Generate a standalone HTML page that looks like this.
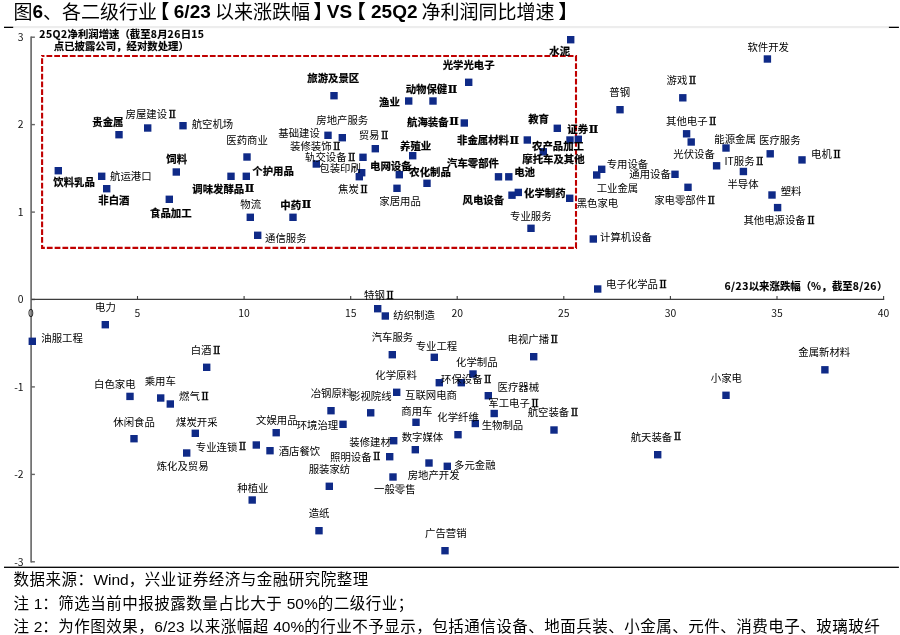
<!DOCTYPE html>
<html lang="zh-CN"><head><meta charset="utf-8"><title>图6</title>
<style>
html,body{margin:0;padding:0;background:#fff;}
body{width:900px;height:635px;overflow:hidden;position:relative;font-family:"Liberation Sans","Noto Sans CJK SC",sans-serif;color:#000;}
#ttl span,#ttl b{position:absolute;top:0;line-height:25px;font-size:19px;white-space:nowrap;}
#ttl b{font-weight:700;}
.fn{position:absolute;left:13.4px;font-size:15.5px;letter-spacing:0.5px;white-space:nowrap;line-height:20px;color:#000;}
.fn i{font-style:normal;letter-spacing:0;}
svg{position:absolute;left:0;top:0;}
svg text{font-family:"Noto Sans CJK SC","Liberation Sans",sans-serif;}
.l{font-size:10.4px;fill:#000;font-weight:400;}
.l tspan{font-family:"DejaVu Serif",serif;font-weight:400;font-size:11px;stroke:#000;stroke-width:0.3px;}
.b tspan{font-family:"DejaVu Serif",serif;font-weight:700;font-size:11.3px;}
.b{font-size:10.4px;fill:#000;font-weight:700;stroke:#000;stroke-width:0.22px;}
.t{font-size:10.4px;fill:#111;}
.at{font-size:10.4px;fill:#000;font-weight:700;stroke:#000;stroke-width:0.15px;}
.at .d{letter-spacing:0.45px;}
.p{fill:#0f2a87;}
</style></head><body>
<div id="ttl"><span style="left:13.4px">图</span><b style="left:32.6px;top:-1px">6</b><span style="left:43.1px">、各二级行业</span><b style="left:150.2px">【</b><b style="left:173.8px;top:-1px">6/23</b><span style="left:215.0px">以来涨跌幅</span><b style="left:313.6px">】</b><b style="left:326.8px;top:-1px">VS</b><b style="left:346.8px">【</b><b style="left:371.0px;top:-1px">25Q2</b><span style="left:421.4px">净利润同比增速</span><b style="left:558.6px">】</b></div>
<svg width="900" height="635" viewBox="0 0 900 635">
<rect x="13.2" y="26" width="876" height="2.2" fill="#ededed"/>
<rect x="4" y="26.7" width="9.2" height="1.3" fill="#000"/>
<rect x="888.9" y="26.7" width="10" height="1.3" fill="#000"/>
<rect x="4" y="566.65" width="894.9" height="1.3" fill="#000"/>
<g stroke="#646464" stroke-width="1.6" fill="none">
<line x1="31.1" y1="36.5" x2="31.1" y2="562.5"/>
<line x1="31" y1="561.8" x2="34.9" y2="561.8" stroke-width="1.4"/>
<line x1="31" y1="474.4" x2="34.9" y2="474.4" stroke-width="1.4"/>
<line x1="31" y1="386.9" x2="34.9" y2="386.9" stroke-width="1.4"/>
<line x1="31" y1="299.5" x2="34.9" y2="299.5" stroke-width="1.4"/>
<line x1="31" y1="212.1" x2="34.9" y2="212.1" stroke-width="1.4"/>
<line x1="31" y1="124.6" x2="34.9" y2="124.6" stroke-width="1.4"/>
<line x1="31" y1="37.2" x2="34.9" y2="37.2" stroke-width="1.4"/>
</g>
<g stroke="#3c3c3c" stroke-width="1.25" fill="none">
<line x1="31.5" y1="299.4" x2="884.2" y2="299.4"/>
<line x1="137.5" y1="299.5" x2="137.5" y2="296" stroke-width="1.1"/>
<line x1="244.1" y1="299.5" x2="244.1" y2="296" stroke-width="1.1"/>
<line x1="350.7" y1="299.5" x2="350.7" y2="296" stroke-width="1.1"/>
<line x1="457.2" y1="299.5" x2="457.2" y2="296" stroke-width="1.1"/>
<line x1="563.8" y1="299.5" x2="563.8" y2="296" stroke-width="1.1"/>
<line x1="670.4" y1="299.5" x2="670.4" y2="296" stroke-width="1.1"/>
<line x1="777.0" y1="299.5" x2="777.0" y2="296" stroke-width="1.1"/>
<line x1="883.6" y1="299.5" x2="883.6" y2="296" stroke-width="1.1"/>
</g>
<text class="t" x="23.6" y="561.1" text-anchor="end" dominant-baseline="central">-3</text>
<text class="t" x="23.6" y="473.7" text-anchor="end" dominant-baseline="central">-2</text>
<text class="t" x="23.6" y="386.2" text-anchor="end" dominant-baseline="central">-1</text>
<text class="t" x="23.6" y="298.8" text-anchor="end" dominant-baseline="central">0</text>
<text class="t" x="23.6" y="211.4" text-anchor="end" dominant-baseline="central">1</text>
<text class="t" x="23.6" y="123.9" text-anchor="end" dominant-baseline="central">2</text>
<text class="t" x="23.6" y="36.5" text-anchor="end" dominant-baseline="central">3</text>
<text class="t" x="30.9" y="312.3" text-anchor="middle" dominant-baseline="central">0</text>
<text class="t" x="137.5" y="312.3" text-anchor="middle" dominant-baseline="central">5</text>
<text class="t" x="244.1" y="312.3" text-anchor="middle" dominant-baseline="central">10</text>
<text class="t" x="350.7" y="312.3" text-anchor="middle" dominant-baseline="central">15</text>
<text class="t" x="457.2" y="312.3" text-anchor="middle" dominant-baseline="central">20</text>
<text class="t" x="563.8" y="312.3" text-anchor="middle" dominant-baseline="central">25</text>
<text class="t" x="670.4" y="312.3" text-anchor="middle" dominant-baseline="central">30</text>
<text class="t" x="777.0" y="312.3" text-anchor="middle" dominant-baseline="central">35</text>
<text class="t" x="883.6" y="312.3" text-anchor="middle" dominant-baseline="central">40</text>
<rect x="42.1" y="56" width="533.9" height="191.9" fill="none" stroke="#c00000" stroke-width="2.1" stroke-dasharray="5.75 2.03" stroke-dashoffset="3.4"/>
<text class="at" x="39.3" y="33.0" dominant-baseline="central"><tspan class="d">25Q2</tspan>净利润增速（截至<tspan class="d">8</tspan>月<tspan class="d">26</tspan>日<tspan class="d">15</tspan></text>
<text class="at" x="53.8" y="45.4" dominant-baseline="central">点已披露公司，经对数处理）</text>
<text class="at" x="724.5" y="285.2" dominant-baseline="central"><tspan class="d">6/23</tspan>以来涨跌幅（<tspan class="d">%</tspan>，截至<tspan class="d">8/26</tspan>）</text>
<rect class="p" x="115.3" y="131.0" width="7.4" height="7.4"/>
<rect class="p" x="144.0" y="124.3" width="7.4" height="7.4"/>
<rect class="p" x="179.3" y="122.0" width="7.4" height="7.4"/>
<rect class="p" x="243.3" y="153.3" width="7.4" height="7.4"/>
<rect class="p" x="54.6" y="167.0" width="7.4" height="7.4"/>
<rect class="p" x="98.0" y="172.6" width="7.4" height="7.4"/>
<rect class="p" x="103.0" y="185.0" width="7.4" height="7.4"/>
<rect class="p" x="172.6" y="168.3" width="7.4" height="7.4"/>
<rect class="p" x="165.6" y="195.6" width="7.4" height="7.4"/>
<rect class="p" x="227.3" y="172.6" width="7.4" height="7.4"/>
<rect class="p" x="242.6" y="172.6" width="7.4" height="7.4"/>
<rect class="p" x="246.6" y="213.6" width="7.4" height="7.4"/>
<rect class="p" x="289.3" y="213.6" width="7.4" height="7.4"/>
<rect class="p" x="254.0" y="231.6" width="7.4" height="7.4"/>
<rect class="p" x="330.3" y="92.0" width="7.4" height="7.4"/>
<rect class="p" x="405.0" y="97.3" width="7.4" height="7.4"/>
<rect class="p" x="429.3" y="97.3" width="7.4" height="7.4"/>
<rect class="p" x="465.0" y="78.6" width="7.4" height="7.4"/>
<rect class="p" x="460.6" y="119.3" width="7.4" height="7.4"/>
<rect class="p" x="324.3" y="131.6" width="7.4" height="7.4"/>
<rect class="p" x="338.6" y="134.0" width="7.4" height="7.4"/>
<rect class="p" x="371.6" y="145.0" width="7.4" height="7.4"/>
<rect class="p" x="359.3" y="153.6" width="7.4" height="7.4"/>
<rect class="p" x="312.6" y="160.3" width="7.4" height="7.4"/>
<rect class="p" x="358.0" y="169.0" width="7.4" height="7.4"/>
<rect class="p" x="355.6" y="173.0" width="7.4" height="7.4"/>
<rect class="p" x="409.0" y="152.0" width="7.4" height="7.4"/>
<rect class="p" x="395.6" y="171.0" width="7.4" height="7.4"/>
<rect class="p" x="423.3" y="179.6" width="7.4" height="7.4"/>
<rect class="p" x="393.3" y="184.6" width="7.4" height="7.4"/>
<rect class="p" x="523.6" y="136.3" width="7.4" height="7.4"/>
<rect class="p" x="494.8" y="173.1" width="7.4" height="7.4"/>
<rect class="p" x="505.1" y="173.1" width="7.4" height="7.4"/>
<rect class="p" x="539.6" y="148.1" width="7.4" height="7.4"/>
<rect class="p" x="514.6" y="188.7" width="7.4" height="7.4"/>
<rect class="p" x="508.3" y="191.5" width="7.4" height="7.4"/>
<rect class="p" x="527.3" y="224.6" width="7.4" height="7.4"/>
<rect class="p" x="567.0" y="36.0" width="7.4" height="7.4"/>
<rect class="p" x="616.3" y="106.0" width="7.4" height="7.4"/>
<rect class="p" x="679.1" y="94.1" width="7.4" height="7.4"/>
<rect class="p" x="763.7" y="55.3" width="7.4" height="7.4"/>
<rect class="p" x="682.9" y="130.1" width="7.4" height="7.4"/>
<rect class="p" x="687.5" y="138.3" width="7.4" height="7.4"/>
<rect class="p" x="722.3" y="144.3" width="7.4" height="7.4"/>
<rect class="p" x="766.5" y="150.1" width="7.4" height="7.4"/>
<rect class="p" x="712.9" y="162.1" width="7.4" height="7.4"/>
<rect class="p" x="739.7" y="167.8" width="7.4" height="7.4"/>
<rect class="p" x="553.6" y="124.6" width="7.4" height="7.4"/>
<rect class="p" x="566.3" y="136.3" width="7.4" height="7.4"/>
<rect class="p" x="574.6" y="135.6" width="7.4" height="7.4"/>
<rect class="p" x="598.0" y="165.6" width="7.4" height="7.4"/>
<rect class="p" x="593.0" y="171.3" width="7.4" height="7.4"/>
<rect class="p" x="671.3" y="170.6" width="7.4" height="7.4"/>
<rect class="p" x="589.6" y="235.3" width="7.4" height="7.4"/>
<rect class="p" x="684.3" y="183.6" width="7.4" height="7.4"/>
<rect class="p" x="566.0" y="194.6" width="7.4" height="7.4"/>
<rect class="p" x="768.3" y="191.3" width="7.4" height="7.4"/>
<rect class="p" x="773.9" y="203.9" width="7.4" height="7.4"/>
<rect class="p" x="798.3" y="156.2" width="7.4" height="7.4"/>
<rect class="p" x="101.6" y="321.0" width="7.4" height="7.4"/>
<rect class="p" x="28.6" y="337.6" width="7.4" height="7.4"/>
<rect class="p" x="203.0" y="363.6" width="7.4" height="7.4"/>
<rect class="p" x="126.3" y="392.7" width="7.4" height="7.4"/>
<rect class="p" x="157.0" y="394.3" width="7.4" height="7.4"/>
<rect class="p" x="166.6" y="400.3" width="7.4" height="7.4"/>
<rect class="p" x="130.3" y="435.0" width="7.4" height="7.4"/>
<rect class="p" x="191.6" y="429.6" width="7.4" height="7.4"/>
<rect class="p" x="272.5" y="429.0" width="7.4" height="7.4"/>
<rect class="p" x="252.6" y="441.3" width="7.4" height="7.4"/>
<rect class="p" x="183.0" y="449.3" width="7.4" height="7.4"/>
<rect class="p" x="266.3" y="447.0" width="7.4" height="7.4"/>
<rect class="p" x="248.5" y="496.3" width="7.4" height="7.4"/>
<rect class="p" x="374.0" y="305.0" width="7.4" height="7.4"/>
<rect class="p" x="381.6" y="312.3" width="7.4" height="7.4"/>
<rect class="p" x="388.6" y="351.0" width="7.4" height="7.4"/>
<rect class="p" x="430.6" y="353.6" width="7.4" height="7.4"/>
<rect class="p" x="530.0" y="353.0" width="7.4" height="7.4"/>
<rect class="p" x="469.3" y="370.3" width="7.4" height="7.4"/>
<rect class="p" x="393.0" y="388.6" width="7.4" height="7.4"/>
<rect class="p" x="435.6" y="379.0" width="7.4" height="7.4"/>
<rect class="p" x="457.6" y="379.0" width="7.4" height="7.4"/>
<rect class="p" x="484.6" y="392.0" width="7.4" height="7.4"/>
<rect class="p" x="327.3" y="407.0" width="7.4" height="7.4"/>
<rect class="p" x="367.0" y="409.1" width="7.4" height="7.4"/>
<rect class="p" x="490.5" y="409.8" width="7.4" height="7.4"/>
<rect class="p" x="412.3" y="418.6" width="7.4" height="7.4"/>
<rect class="p" x="471.6" y="419.8" width="7.4" height="7.4"/>
<rect class="p" x="339.3" y="420.6" width="7.4" height="7.4"/>
<rect class="p" x="390.0" y="437.0" width="7.4" height="7.4"/>
<rect class="p" x="411.6" y="446.0" width="7.4" height="7.4"/>
<rect class="p" x="454.3" y="431.0" width="7.4" height="7.4"/>
<rect class="p" x="386.0" y="453.0" width="7.4" height="7.4"/>
<rect class="p" x="443.6" y="462.6" width="7.4" height="7.4"/>
<rect class="p" x="425.3" y="459.3" width="7.4" height="7.4"/>
<rect class="p" x="325.6" y="482.6" width="7.4" height="7.4"/>
<rect class="p" x="389.3" y="473.3" width="7.4" height="7.4"/>
<rect class="p" x="315.3" y="527.0" width="7.4" height="7.4"/>
<rect class="p" x="441.3" y="547.0" width="7.4" height="7.4"/>
<rect class="p" x="594.0" y="285.3" width="7.4" height="7.4"/>
<rect class="p" x="722.3" y="391.6" width="7.4" height="7.4"/>
<rect class="p" x="550.3" y="426.3" width="7.4" height="7.4"/>
<rect class="p" x="654.0" y="451.0" width="7.4" height="7.4"/>
<rect class="p" x="821.2" y="366.1" width="7.4" height="7.4"/>
<text class="b" x="92.3" y="121.7" dominant-baseline="central">贵金属</text>
<text class="l" x="125.5" y="113.4" dominant-baseline="central">房屋建设<tspan dx="1.4" dy="0.3">Ⅱ</tspan></text>
<text class="l" x="191.7" y="123.4" dominant-baseline="central">航空机场</text>
<text class="l" x="226.3" y="139.4" dominant-baseline="central">医药商业</text>
<text class="b" x="166.3" y="158.7" dominant-baseline="central">饲料</text>
<text class="b" x="53.3" y="181.1" dominant-baseline="central">饮料乳品</text>
<text class="l" x="110.0" y="175.4" dominant-baseline="central">航运港口</text>
<text class="b" x="98.3" y="199.7" dominant-baseline="central">非白酒</text>
<text class="b" x="150.0" y="212.1" dominant-baseline="central">食品加工</text>
<text class="b" x="192.3" y="188.1" dominant-baseline="central">调味发酵品<tspan dx="0.6" dy="0.3">Ⅱ</tspan></text>
<text class="b" x="252.3" y="170.7" dominant-baseline="central">个护用品</text>
<text class="l" x="240.3" y="203.7" dominant-baseline="central">物流</text>
<text class="b" x="280.3" y="204.0" dominant-baseline="central">中药<tspan dx="0.6" dy="0.3">Ⅱ</tspan></text>
<text class="l" x="265.0" y="237.0" dominant-baseline="central">通信服务</text>
<text class="b" x="307.3" y="77.7" dominant-baseline="central">旅游及景区</text>
<text class="b" x="442.7" y="64.4" dominant-baseline="central">光学光电子</text>
<text class="b" x="405.7" y="88.4" dominant-baseline="central">动物保健<tspan dx="0.6" dy="0.3">Ⅱ</tspan></text>
<text class="b" x="379.0" y="101.4" dominant-baseline="central">渔业</text>
<text class="b" x="407.0" y="121.1" dominant-baseline="central">航海装备<tspan dx="0.6" dy="0.3">Ⅱ</tspan></text>
<text class="l" x="316.3" y="119.4" dominant-baseline="central">房地产服务</text>
<text class="l" x="278.3" y="132.1" dominant-baseline="central">基础建设</text>
<text class="l" x="358.7" y="134.4" dominant-baseline="central">贸易<tspan dx="1.4" dy="0.3">Ⅱ</tspan></text>
<text class="l" x="290.0" y="145.4" dominant-baseline="central">装修装饰<tspan dx="1.4" dy="0.3">Ⅱ</tspan></text>
<text class="l" x="305.0" y="156.7" dominant-baseline="central">轨交设备<tspan dx="1.4" dy="0.3">Ⅱ</tspan></text>
<text class="l" x="319.3" y="167.7" dominant-baseline="central">包装印刷</text>
<text class="b" x="400.0" y="145.1" dominant-baseline="central">养殖业</text>
<text class="b" x="370.0" y="165.7" dominant-baseline="central">电网设备</text>
<text class="b" x="409.3" y="171.1" dominant-baseline="central">农化制品</text>
<text class="l" x="338.0" y="188.4" dominant-baseline="central">焦炭<tspan dx="1.4" dy="0.3">Ⅱ</tspan></text>
<text class="b" x="528.2" y="118.7" dominant-baseline="central">教育</text>
<text class="b" x="457.0" y="139.7" dominant-baseline="central">非金属材料<tspan dx="0.6" dy="0.3">Ⅱ</tspan></text>
<text class="b" x="447.0" y="162.4" dominant-baseline="central">汽车零部件</text>
<text class="b" x="514.2" y="171.7" dominant-baseline="central">电池</text>
<text class="b" x="522.3" y="158.0" dominant-baseline="central">摩托车及其他</text>
<text class="b" x="532.0" y="145.4" dominant-baseline="central">农产品加工</text>
<text class="b" x="524.0" y="192.4" dominant-baseline="central">化学制药</text>
<text class="b" x="462.5" y="199.4" dominant-baseline="central">风电设备</text>
<text class="l" x="379.3" y="200.1" dominant-baseline="central">家居用品</text>
<text class="l" x="510.0" y="215.6" dominant-baseline="central">专业服务</text>
<text class="b" x="549.3" y="50.1" dominant-baseline="central">水泥</text>
<text class="l" x="609.3" y="91.4" dominant-baseline="central">普钢</text>
<text class="l" x="666.6" y="79.4" dominant-baseline="central">游戏<tspan dx="1.4" dy="0.3">Ⅱ</tspan></text>
<text class="l" x="747.4" y="46.8" dominant-baseline="central">软件开发</text>
<text class="l" x="666.0" y="120.4" dominant-baseline="central">其他电子<tspan dx="1.4" dy="0.3">Ⅱ</tspan></text>
<text class="l" x="714.3" y="138.4" dominant-baseline="central">能源金属</text>
<text class="l" x="759.0" y="139.4" dominant-baseline="central">医疗服务</text>
<text class="l" x="673.3" y="153.4" dominant-baseline="central">光伏设备</text>
<text class="l" x="724.5" y="160.6" dominant-baseline="central">IT服务<tspan dx="1.4" dy="0.3">Ⅱ</tspan></text>
<text class="b" x="567.3" y="128.4" dominant-baseline="central">证券<tspan dx="0.6" dy="0.3">Ⅱ</tspan></text>
<text class="l" x="606.7" y="163.4" dominant-baseline="central">专用设备</text>
<text class="l" x="629.3" y="173.7" dominant-baseline="central">通用设备</text>
<text class="l" x="596.7" y="187.7" dominant-baseline="central">工业金属</text>
<text class="l" x="576.7" y="202.1" dominant-baseline="central">黑色家电</text>
<text class="l" x="600.0" y="236.1" dominant-baseline="central">计算机设备</text>
<text class="l" x="654.2" y="199.2" dominant-baseline="central">家电零部件<tspan dx="1.4" dy="0.3">Ⅱ</tspan></text>
<text class="l" x="727.4" y="183.1" dominant-baseline="central">半导体</text>
<text class="l" x="743.4" y="219.2" dominant-baseline="central">其他电源设备<tspan dx="1.4" dy="0.3">Ⅱ</tspan></text>
<text class="l" x="811.0" y="153.2" dominant-baseline="central">电机<tspan dx="1.4" dy="0.3">Ⅱ</tspan></text>
<text class="l" x="780.7" y="190.8" dominant-baseline="central">塑料</text>
<text class="l" x="95.0" y="306.1" dominant-baseline="central">电力</text>
<text class="l" x="41.3" y="337.7" dominant-baseline="central">油服工程</text>
<text class="l" x="190.7" y="349.4" dominant-baseline="central">白酒<tspan dx="1.4" dy="0.3">Ⅱ</tspan></text>
<text class="l" x="94.0" y="383.4" dominant-baseline="central">白色家电</text>
<text class="l" x="144.7" y="380.4" dominant-baseline="central">乘用车</text>
<text class="l" x="179.0" y="395.4" dominant-baseline="central">燃气<tspan dx="1.4" dy="0.3">Ⅱ</tspan></text>
<text class="l" x="113.3" y="421.1" dominant-baseline="central">休闲食品</text>
<text class="l" x="176.0" y="421.4" dominant-baseline="central">煤炭开采</text>
<text class="l" x="256.0" y="419.4" dominant-baseline="central">文娱用品</text>
<text class="l" x="195.8" y="446.1" dominant-baseline="central">专业连锁<tspan dx="1.4" dy="0.3">Ⅱ</tspan></text>
<text class="l" x="156.7" y="465.4" dominant-baseline="central">炼化及贸易</text>
<text class="l" x="278.7" y="450.1" dominant-baseline="central">酒店餐饮</text>
<text class="l" x="237.3" y="487.7" dominant-baseline="central">种植业</text>
<text class="l" x="364.0" y="294.4" dominant-baseline="central">特钢<tspan dx="1.4" dy="0.3">Ⅱ</tspan></text>
<text class="l" x="393.3" y="314.4" dominant-baseline="central">纺织制造</text>
<text class="l" x="371.7" y="336.1" dominant-baseline="central">汽车服务</text>
<text class="l" x="415.7" y="345.4" dominant-baseline="central">专业工程</text>
<text class="l" x="507.5" y="338.6" dominant-baseline="central">电视广播<tspan dx="1.4" dy="0.3">Ⅱ</tspan></text>
<text class="l" x="456.0" y="361.7" dominant-baseline="central">化学制品</text>
<text class="l" x="375.3" y="374.1" dominant-baseline="central">化学原料</text>
<text class="l" x="441.0" y="378.7" dominant-baseline="central">环保设备<tspan dx="1.4" dy="0.3">Ⅱ</tspan></text>
<text class="l" x="497.5" y="386.2" dominant-baseline="central">医疗器械</text>
<text class="l" x="310.7" y="392.7" dominant-baseline="central">冶钢原料</text>
<text class="l" x="350.0" y="395.1" dominant-baseline="central">影视院线</text>
<text class="l" x="405.0" y="394.4" dominant-baseline="central">互联网电商</text>
<text class="l" x="488.3" y="402.7" dominant-baseline="central">军工电子<tspan dx="1.4" dy="0.3">Ⅱ</tspan></text>
<text class="l" x="401.3" y="410.1" dominant-baseline="central">商用车</text>
<text class="l" x="437.3" y="416.1" dominant-baseline="central">化学纤维</text>
<text class="l" x="481.7" y="424.1" dominant-baseline="central">生物制品</text>
<text class="l" x="527.7" y="411.9" dominant-baseline="central">航空装备<tspan dx="1.4" dy="0.3">Ⅱ</tspan></text>
<text class="l" x="296.7" y="424.9" dominant-baseline="central">环境治理</text>
<text class="l" x="349.3" y="441.1" dominant-baseline="central">装修建材</text>
<text class="l" x="401.7" y="436.7" dominant-baseline="central">数字媒体</text>
<text class="l" x="330.0" y="456.1" dominant-baseline="central">照明设备<tspan dx="1.4" dy="0.3">Ⅱ</tspan></text>
<text class="l" x="454.0" y="464.4" dominant-baseline="central">多元金融</text>
<text class="l" x="308.7" y="468.4" dominant-baseline="central">服装家纺</text>
<text class="l" x="407.7" y="474.4" dominant-baseline="central">房地产开发</text>
<text class="l" x="374.0" y="488.4" dominant-baseline="central">一般零售</text>
<text class="l" x="308.7" y="512.7" dominant-baseline="central">造纸</text>
<text class="l" x="425.0" y="532.7" dominant-baseline="central">广告营销</text>
<text class="l" x="606.0" y="283.7" dominant-baseline="central">电子化学品<tspan dx="1.4" dy="0.3">Ⅱ</tspan></text>
<text class="l" x="710.8" y="377.8" dominant-baseline="central">小家电</text>
<text class="l" x="630.7" y="436.1" dominant-baseline="central">航天装备<tspan dx="1.4" dy="0.3">Ⅱ</tspan></text>
<text class="l" x="798.3" y="351.8" dominant-baseline="central">金属新材料</text>
</svg>
<div class="fn" style="top:569.8px">数据来源：<i>Wind</i>，兴业证券经济与金融研究院整理</div>
<div class="fn" style="top:594px">注<i> 1</i>：筛选当前中报披露数量占比大于<i> 50%</i>的二级行业；</div>
<div class="fn" style="top:617.2px">注<i> 2</i>：为作图效果，<i>6/23 </i>以来涨幅超<i> 40%</i>的行业不予显示，包括通信设备、地面兵装、小金属、元件、消费电子、玻璃玻纤</div>
</body></html>
